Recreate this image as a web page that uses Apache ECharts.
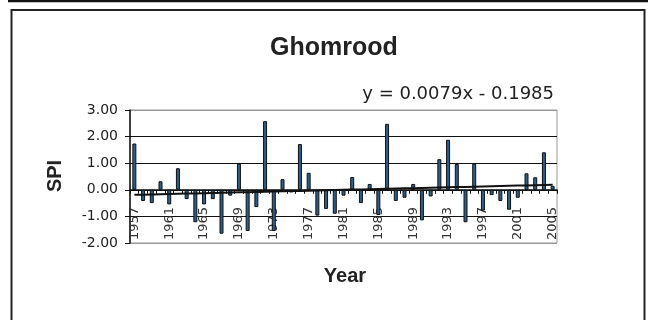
<!DOCTYPE html>
<html>
<head>
<meta charset="utf-8">
<script src="https://cdn.jsdelivr.net/npm/echarts@6/dist/echarts.min.js"></script>
<style>
  html, body { margin: 0; padding: 0; background: #fff; }
  #chart { width: 650px; height: 320px; }
</style>
</head>
<body>
<div id="chart"></div>
<script>
// Ghomrood station: annual SPI, 1957-2005
const years = [
  '1957','1958','1959','1960','1961','1962','1963','1964','1965','1966',
  '1967','1968','1969','1970','1971','1972','1973','1974','1975','1976',
  '1977','1978','1979','1980','1981','1982','1983','1984','1985','1986',
  '1987','1988','1989','1990','1991','1992','1993','1994','1995','1996',
  '1997','1998','1999','2000','2001','2002','2003','2004','2005'
];
const spi = [
   1.74, -0.42, -0.50,  0.32, -0.55,  0.81, -0.35, -1.22, -0.55, -0.35,
  -1.65, -0.22,  0.98, -1.55, -0.65,  2.58, -1.55,  0.40, -0.10,  1.72,
   0.64, -0.97, -0.72, -0.90, -0.22,  0.48, -0.50,  0.22, -0.95,  2.48,
  -0.42, -0.30,  0.22, -1.15, -0.25,  1.15,  1.88,  0.97, -1.22,  0.98,
  -0.78, -0.20, -0.42, -0.75, -0.30,  0.62,  0.47,  1.41,  0.15
];
// Linear trend fitted over the series index (1..n)
const trendSlope = 0.0079;
const trendIntercept = -0.1985;
const yTicks = { min: -2, max: 3, step: 1 };

const trend = years.map((_, i) => +(trendSlope * (i + 1) + trendIntercept).toFixed(4));
const eqText = 'y = ' + trendSlope.toFixed(4) + 'x - ' + Math.abs(trendIntercept).toFixed(4);

const chart = echarts.init(document.getElementById('chart'), null, { renderer: 'canvas' });

chart.setOption({
  animation: false,
  backgroundColor: '#fff',
  title: [
    {
      text: 'Ghomrood',
      left: 329, top: 31, textAlign: 'center',
      textStyle: { fontFamily: 'Liberation Sans', fontWeight: 'bold', fontSize: 25, color: '#222' }
    },
    {
      text: eqText,
      right: 91, top: 80,
      textStyle: { fontFamily: 'DejaVu Sans', fontWeight: 'normal', fontSize: 18, color: '#222' }
    }
  ],
  graphic: [
    { type: 'line', shape: { x1: 8, y1: 1, x2: 648, y2: 1 }, style: { stroke: '#111', lineWidth: 2.5 } },
    { type: 'rect', shape: { x: 11.5, y: 10, width: 633, height: 330 }, style: { fill: 'none', stroke: '#222', lineWidth: 2 } },
    {
      type: 'text', x: 55, y: 176, rotation: Math.PI / 2,
      style: { text: 'SPI', align: 'center', verticalAlign: 'middle', font: 'bold 20px "Liberation Sans"', fill: '#222' }
    },
    {
      type: 'text', x: 345, y: 276,
      style: { text: 'Year', align: 'center', verticalAlign: 'middle', font: 'bold 20px "Liberation Sans"', fill: '#222' }
    }
  ],
  grid: {
    left: 130, right: 93, top: 110, bottom: 77,
    show: true, borderColor: '#999', borderWidth: 1, backgroundColor: 'transparent'
  },
  xAxis: [
    {
      // category axis drawn along the zero line, ticks only
      type: 'category',
      data: years,
      boundaryGap: true,
      axisLine: { onZero: true, lineStyle: { color: '#111', width: 1.5 } },
      axisTick: { show: true, interval: 0, length: 4, lineStyle: { color: '#111' } },
      axisLabel: { show: false },
      splitLine: { show: false }
    },
    {
      // year labels standing up from the bottom of the plot
      type: 'category',
      data: years,
      position: 'bottom',
      boundaryGap: true,
      axisLine: { show: false },
      axisTick: { show: false },
      axisLabel: {
        interval: 3, rotate: 90, inside: true, margin: 3,
        fontFamily: 'DejaVu Sans', fontSize: 13, color: '#333'
      },
      splitLine: { show: false }
    }
  ],
  yAxis: {
    type: 'value',
    min: yTicks.min, max: yTicks.max, interval: yTicks.step,
    axisLine: { show: true, lineStyle: { color: '#111', width: 1.5 } },
    axisTick: { show: true, length: 5, lineStyle: { color: '#111' } },
    axisLabel: {
      margin: 12, fontFamily: 'DejaVu Sans', fontSize: 14, color: '#222',
      formatter: v => v.toFixed(2)
    },
    splitLine: {
      show: true,
      lineStyle: { color: ['#999', '#111', '#111', '#111', '#111', '#999'], width: 1.2 }
    }
  },
  series: [
    {
      name: 'SPI',
      type: 'bar',
      xAxisIndex: 0,
      data: spi,
      barWidth: 4,
      itemStyle: { color: '#2d5f8b', borderColor: '#111', borderWidth: 1 },
      z: 2
    },
    {
      name: 'Trend',
      type: 'line',
      xAxisIndex: 0,
      data: trend,
      symbol: 'none',
      lineStyle: { color: '#111', width: 2 },
      z: 3
    }
  ]
});
</script>
</body>
</html>
